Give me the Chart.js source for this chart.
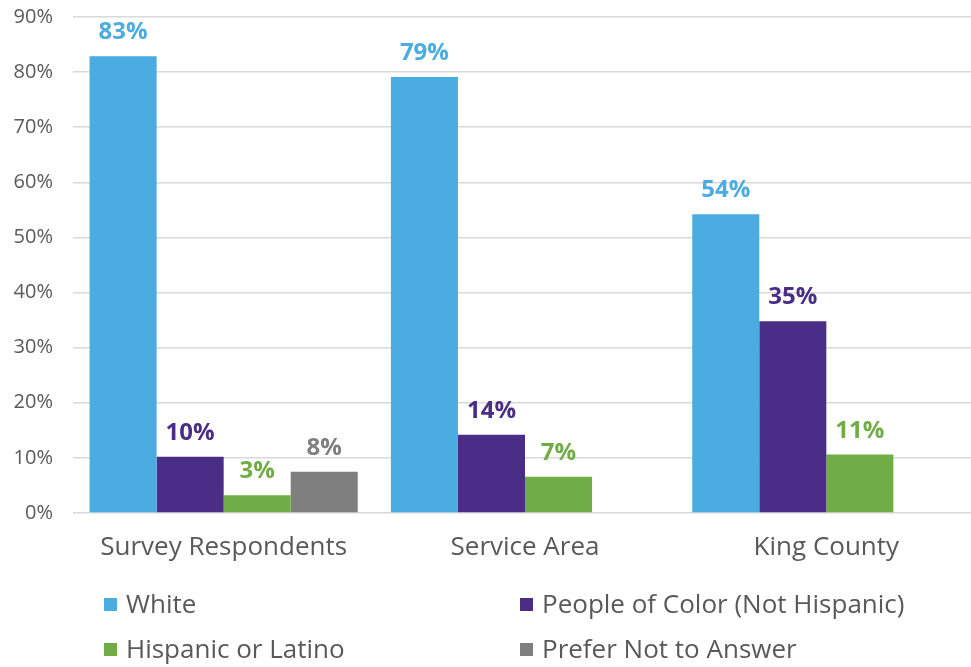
<!DOCTYPE html>
<html>
<head>
<meta charset="utf-8">
<title>Race and Ethnicity</title>
<script src="https://cdn.jsdelivr.net/npm/chart.js@4"></script>
<style>
  html, body { margin: 0; padding: 0; background: #fff; overflow: hidden; }
  #chart { display: block; }
</style>
</head>
<body>
<canvas id="chart" width="980" height="667"></canvas>
<script>
// Categories and series (percent of population)
const categories = ['Survey Respondents', 'Service Area', 'King County'];
const whiteValues = [82.9, 79.1, 54.2];
const colorValues = [10.2, 14.2, 34.8];
const hispanicValues = [3.2, 6.6, 10.6];
const preferValues = [7.5, null, null];
const seriesNames = ['White', 'People of Color (Not Hispanic)', 'Hispanic or Latino', 'Prefer Not to Answer'];
const seriesColors = ['#4AACE0', '#4A2D87', '#70AD47', '#7F7F7F'];
const yTicks = [0, 10, 20, 30, 40, 50, 60, 70, 80, 90];

const FONT = "'Open Sans', sans-serif";
const TEXT = '#595959';

// value labels above each bar, same colour as the bar
const barLabels = {
    id: 'barLabels',
    afterDatasetsDraw(chart) {
        const ctx = chart.ctx;
        ctx.save();
        ctx.font = 'bold 24px ' + FONT;
        ctx.textAlign = 'center';
        ctx.textBaseline = 'alphabetic';
        chart.data.datasets.forEach((ds, i) => {
            chart.getDatasetMeta(i).data.forEach((bar, j) => {
                const v = ds.data[j];
                if (v == null) return;
                ctx.fillStyle = ds.backgroundColor;
                ctx.fillText(Math.round(v) + '%', bar.x, bar.y - 17);
            });
        });
        ctx.restore();
    }
};

// two-column legend under the axis
const gridLegend = {
    id: 'gridLegend',
    afterDraw(chart) {
        const ctx = chart.ctx;
        const cols = [104, 520];
        const rows = [605, 650];
        ctx.save();
        ctx.font = '26px ' + FONT;
        ctx.textBaseline = 'middle';
        ctx.textAlign = 'left';
        chart.data.datasets.forEach((ds, i) => {
            const x = cols[i % 2];
            const y = rows[Math.floor(i / 2)];
            ctx.fillStyle = ds.backgroundColor;
            ctx.fillRect(x, y - 7, 13, 13);
            ctx.fillStyle = TEXT;
            ctx.fillText(ds.label, x + 22, y + 1);
        });
        ctx.restore();
    }
};

const seriesValues = [whiteValues, colorValues, hispanicValues, preferValues];

new Chart(document.getElementById('chart'), {
    type: 'bar',
    data: {
        labels: categories,
        datasets: seriesNames.map((name, i) => ({
            label: name,
            data: seriesValues[i],
            backgroundColor: seriesColors[i],
            borderWidth: 0,
            categoryPercentage: 0.89,
            barPercentage: 1.0
        }))
    },
    options: {
        responsive: false,
        animation: false,
        devicePixelRatio: 1,
        layout: { padding: { top: 17, right: 3, left: 0, bottom: 0 } },
        plugins: {
            legend: { display: false },
            tooltip: { enabled: false }
        },
        scales: {
            x: {
                grid: { display: false, drawTicks: false },
                border: { display: false },
                ticks: {
                    color: TEXT,
                    font: { family: FONT, size: 26 },
                    padding: 19,
                    maxRotation: 0
                },
                afterFit(scale) { scale.height = 154; }
            },
            y: {
                min: 0,
                max: 90,
                afterBuildTicks(scale) {
                    scale.ticks = yTicks.map(v => ({ value: v }));
                },
                grid: { color: '#d9d9d9', lineWidth: 1.5, drawTicks: false },
                border: { display: false },
                ticks: {
                    color: TEXT,
                    font: { family: FONT, size: 20 },
                    padding: 20,
                    callback: v => v + '%'
                },
                afterFit(scale) {
                    scale.width = 73;
                    scale.paddingTop = 0;
                    scale.paddingBottom = 0;
                }
            }
        }
    },
    plugins: [barLabels, gridLegend]
});
</script>
</body>
</html>
